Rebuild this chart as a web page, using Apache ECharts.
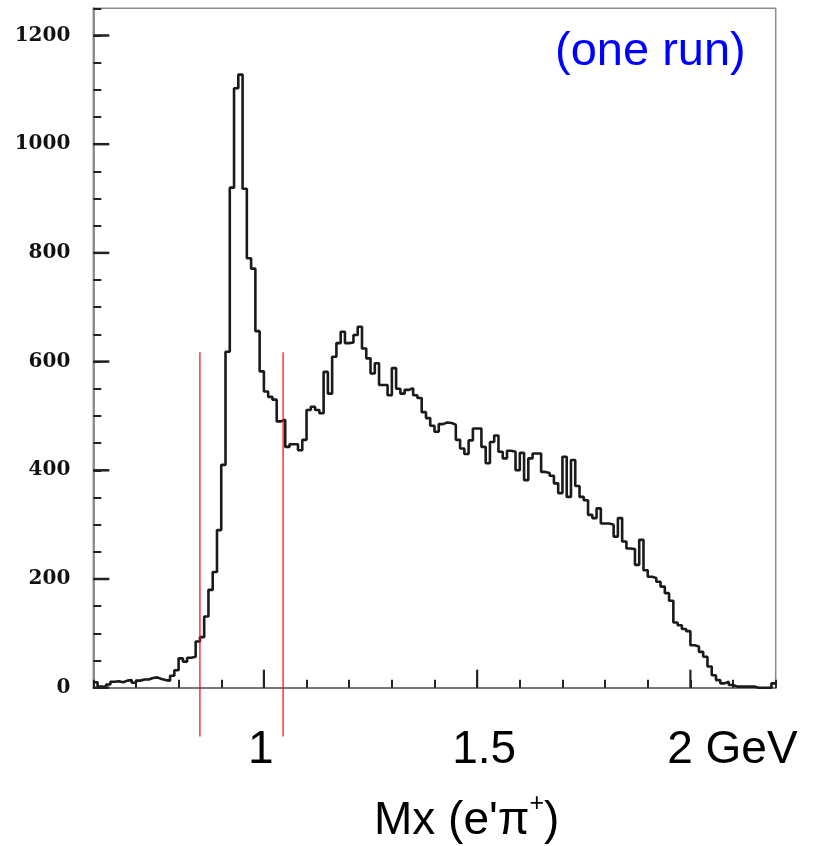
<!DOCTYPE html>
<html><head><meta charset="utf-8">
<script src="https://cdn.jsdelivr.net/npm/echarts@6/dist/echarts.min.js"></script>
<style>html,body{margin:0;padding:0;background:#fff}#c{width:828px;height:846px}</style>
</head><body><div id="c"></div>
<script>
// ---- data ----
const binLow = 0.60;
const binWidth = 0.01;
const counts = [
  10, 2, 1, 6, 11, 12, 10, 13, 14, 9,
  13, 15, 15, 18, 19, 16, 14, 13, 22, 32,
  54, 48, 55, 57, 85, 93, 131, 180, 213, 290,
  410, 618, 920, 1103, 1128, 918, 790, 771, 656, 582,
  545, 535, 530, 490, 493, 443, 448, 448, 437, 456,
  511, 517, 511, 505, 581, 541, 609, 634, 655, 634,
  635, 649, 664, 624, 606, 578, 597, 557, 557, 538,
  588, 550, 541, 548, 551, 538, 533, 507, 496, 482,
  471, 485, 488, 487, 484, 456, 440, 430, 455, 477,
  477, 443, 413, 452, 464, 434, 422, 436, 434, 400,
  432, 382, 422, 431, 431, 397, 395, 390, 376, 358,
  425, 351, 419, 371, 351, 345, 318, 312, 330, 302,
  302, 300, 278, 312, 269, 256, 255, 226, 272, 216,
  204, 202, 195, 186, 174, 160, 120, 115, 108, 104,
  78, 76, 66, 57, 39, 23, 14, 8, 11, 5,
  2, 2, 2, 2, 2, 0, 0, 0, 0, 8
];
const cutPositions = [0.85, 1.045];
const cutTop = 617;
const cutBottom = -90;
const xMajorTicks = [1.0, 1.5, 2.0];
const xTickLabels = ['1', '1.5', '2 GeV'];
const yMajorTicks = [0, 200, 400, 600, 800, 1000, 1200];
const yTickLabels = ['0', '200', '400', '600', '800', '1000', '1200'];
const axisTitle = ['Mx (e\'\u03c0', '+', ')'];
const runNote = '(one run)';

// ---- build ----
const histData = counts.map((v, i) => [+(binLow + i * binWidth).toFixed(3), v]);
histData.push([+(binLow + counts.length * binWidth).toFixed(3), counts[counts.length - 1]]);

const chart = echarts.init(document.getElementById('c'), null, {renderer: 'canvas'});

const cutSeries = cutPositions.map(x => ({
  type: 'line', data: [[x, cutTop], [x, cutBottom]], symbol: 'none', clip: false, silent: true,
  lineStyle: {color: '#ff0000', width: 1.2}, z: 4
}));

const labelShift = [
  {padding: [0, 6, 0, 0]},
  {padding: [0, 0, 0, 14]},
  {padding: [0, 0, 0, 84]}
];
const rich = {};
labelShift.forEach((s, i) => { rich['k' + i] = Object.assign({fontSize: 46, fontFamily: 'Liberation Sans', color: '#000'}, s); });

chart.setOption({
  animation: false,
  backgroundColor: '#fff',
  grid: {left: 93.3, right: 52.3, top: 8.3, bottom: 158.3, show: true, borderColor: '#8c8c8c', borderWidth: 1.5},
  xAxis: {
    type: 'value', min: 0.6, max: 2.2, interval: 0.1,
    axisLine: {show: true, onZero: false, lineStyle: {color: '#777', width: 2}},
    axisTick: {show: true, inside: true, length: 8, lineStyle: {color: '#222', width: 2}},
    splitLine: {show: false},
    axisLabel: {
      show: true, margin: 40, color: '#000', fontSize: 46, fontFamily: 'Liberation Sans',
      formatter: v => {
        const i = xMajorTicks.findIndex(t => Math.abs(t - v) < 1e-6);
        return i >= 0 ? '{k' + i + '|' + xTickLabels[i] + '}' : '';
      },
      rich: rich
    }
  },
  yAxis: {
    type: 'value', min: 0, max: 1250, interval: 50,
    axisLine: {show: true, lineStyle: {color: '#8c8c8c', width: 2}},
    axisTick: {show: true, inside: true, length: 8, lineStyle: {color: '#222', width: 2}},
    splitLine: {show: false},
    axisLabel: {
      show: true, margin: 23, color: '#111', fontSize: 20, fontWeight: 'bold', fontFamily: 'DejaVu Serif',
      formatter: v => {
        const i = yMajorTicks.indexOf(v);
        return i >= 0 ? yTickLabels[i] : '';
      }
    }
  },
  graphic: [
    {type: 'text', left: 555, top: 29, z: 10,
      style: {text: runNote, fill: '#0000ff', font: '47px "Liberation Sans"'}},
    {type: 'text', left: 374, top: 792, z: 10,
      style: {text: '{n|' + axisTitle[0] + '}{s|' + axisTitle[1] + '}{n|' + axisTitle[2] + '}',
        rich: {
          n: {fontSize: 46, fontFamily: 'Liberation Sans', fill: '#000', verticalAlign: 'bottom', lineHeight: 52},
          s: {fontSize: 25, fontFamily: 'Liberation Sans', fill: '#000', verticalAlign: 'top', lineHeight: 52, padding: [0, 0, 22, 0]}
        }}}
  ],
  series: [
    {
      type: 'line', data: histData, step: 'end', symbol: 'none', silent: true,
      lineStyle: {color: '#1a1a1a', width: 2.6}, z: 3
    },
    ...cutSeries,
    {
      type: 'custom', coordinateSystem: 'cartesian2d', clip: false, silent: true, z: 6,
      data: xMajorTicks.map(v => [v, 0]),
      renderItem: (params, api) => {
        const p = api.coord([api.value(0), api.value(1)]);
        return {type: 'line', shape: {x1: p[0], y1: p[1], x2: p[0], y2: p[1] - 18},
          style: {stroke: '#222', lineWidth: 2.2}};
      }
    },
    {
      type: 'custom', coordinateSystem: 'cartesian2d', clip: false, silent: true, z: 6,
      data: yMajorTicks.map(v => [0.6, v]),
      renderItem: (params, api) => {
        const p = api.coord([api.value(0), api.value(1)]);
        return {type: 'line', shape: {x1: p[0], y1: p[1], x2: p[0] + 16, y2: p[1]},
          style: {stroke: '#222', lineWidth: 2.5}};
      }
    }
  ]
});
</script>
</body></html>
